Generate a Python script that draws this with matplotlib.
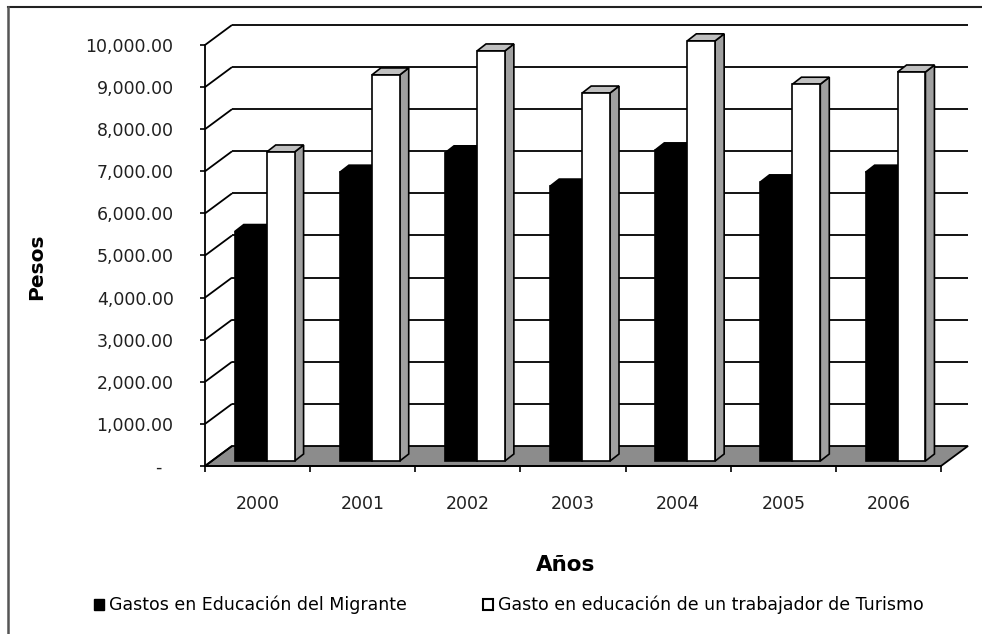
import matplotlib
matplotlib.use("Agg")
import matplotlib.pyplot as plt
from matplotlib.patches import Polygon, Patch
from matplotlib.lines import Line2D

years = ["2000", "2001", "2002", "2003", "2004", "2005", "2006"]
migrante = [5450, 6860, 7320, 6530, 7390, 6630, 6860]
turismo = [7340, 9170, 9740, 8740, 9980, 8950, 9240]
y_ticks = [0, 1000, 2000, 3000, 4000, 5000, 6000, 7000, 8000, 9000, 10000]
serie_names = ["Gastos en Educación del Migrante",
               "Gasto en educación de un trabajador de Turismo"]

W, H = 982, 634
plt.rcParams["font.family"] = ["DejaVu Sans"]

fig = plt.figure(figsize=(W / 100, H / 100), dpi=100, facecolor="white")
# front plane of the 3D box, in pixels: x 205..941, y 466 (0) .. 45 (10000)
ax = fig.add_axes([205 / W, 1 - 466 / H, (941 - 205) / W, (466 - 45) / H])
n = len(years)
ax.set_xlim(0, n)
ax.set_ylim(0, 10000)
ax.set_facecolor("none")

px_x = n / (941 - 205)          # category units per pixel
px_y = 10000 / (466 - 45)       # value units per pixel
DX, DY = 27 * px_x, 20 * px_y   # depth of the box
ddx, ddy = 9 * px_x, 7 * px_y   # depth of the bars
base = 5 * px_y                 # bars sit a bit inside the floor

kw = dict(clip_on=False, lw=1.3, color="black", solid_capstyle="butt")

# floor
ax.add_patch(Polygon([(0, 0), (n, 0), (n + DX, DY), (DX, DY)], closed=True,
                     facecolor="#8c8c8c", edgecolor="black", lw=1.3, clip_on=False, zorder=1))
# back wall gridlines and side-wall diagonals
for v in y_ticks:
    if v > 0:
        ax.plot([DX, n + DX], [v + DY, v + DY], zorder=1, **kw)
    ax.plot([0, DX], [v, v + DY], zorder=1, **kw)


def bar3d(x0, x1, top, front, topc, side):
    z = 3
    ax.add_patch(Polygon([(x1, base), (x1, top), (x1 + ddx, top + ddy), (x1 + ddx, base + ddy)],
                         closed=True, facecolor=side, edgecolor="black", lw=1.2, clip_on=False, zorder=z))
    ax.add_patch(Polygon([(x0, top), (x1, top), (x1 + ddx, top + ddy), (x0 + ddx, top + ddy)],
                         closed=True, facecolor=topc, edgecolor="black", lw=1.2, clip_on=False, zorder=z))
    ax.add_patch(Polygon([(x0, base), (x1, base), (x1, top), (x0, top)],
                         closed=True, facecolor=front, edgecolor="black", lw=1.2, clip_on=False, zorder=z))


for i in range(n):
    bar3d(i + 0.283, i + 0.587, migrante[i] + base, "black", "black", "black")
    bar3d(i + 0.587, i + 0.852, turismo[i] + base, "white", "#c0c0c0", "#a0a0a0")

# axes lines and ticks
for s in ["top", "right"]:
    ax.spines[s].set_visible(False)
for s in ["left", "bottom"]:
    ax.spines[s].set_linewidth(1.3)
    ax.spines[s].set_zorder(5)
ax.set_yticks(y_ticks)
ax.set_yticklabels(["-  "] + [f"{v:,.2f}" for v in y_ticks[1:]], fontsize=12.5, color="#202020")
ax.tick_params(axis="y", direction="out", length=3.6, width=1.2, pad=19)
ax.set_xticks(range(n + 1))
ax.set_xticklabels([])
ax.tick_params(axis="x", which="major", direction="out", length=4, width=1.2)
ax.set_xticks([i + 0.5 for i in range(n)], minor=True)
ax.set_xticklabels(years, minor=True, fontsize=12.5, color="#202020")
ax.tick_params(axis="x", which="minor", length=0, pad=21)

fig.text(37 / W, 1 - 267 / H, "Pesos", rotation=90, ha="center", va="center",
         fontsize=14.5, fontweight="bold")
fig.text(566 / W, 1 - 565 / H, "Años", ha="center", va="center",
         fontsize=15.5, fontweight="bold")

handles = [Patch(facecolor="black", edgecolor="black"),
           Patch(facecolor="white", edgecolor="black", lw=1.5)]
fig.legend(handles, serie_names, loc="center left", bbox_to_anchor=(94 / W, 1 - 605 / H),
           ncol=2, frameon=False, fontsize=12.5, handlelength=0.6, handleheight=0.6,
           handletextpad=0.25, columnspacing=4.4, borderpad=0, borderaxespad=0)

# chart border (top and left only, the rest is cut off)
fig.add_artist(Line2D([8 / W, 1], [1 - 7 / H, 1 - 7 / H], transform=fig.transFigure,
                      color="#222222", lw=1.5))
fig.add_artist(Line2D([8 / W, 8 / W], [0, 1 - 7 / H], transform=fig.transFigure,
                      color="#555555", lw=1.8))

fig.savefig("out.png", dpi=100, facecolor="white")
plt.close(fig)
